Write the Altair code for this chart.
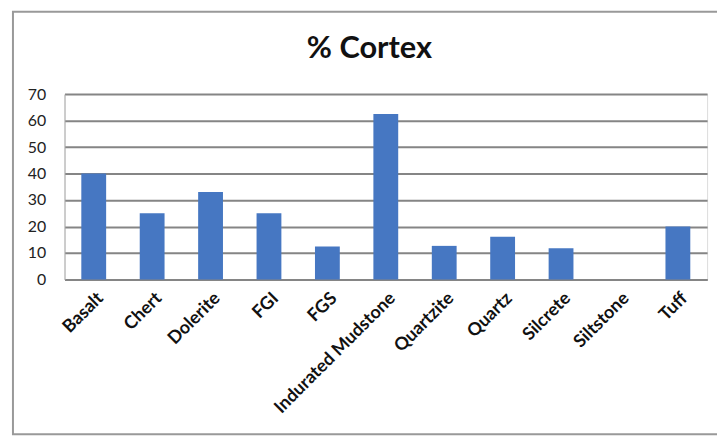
import altair as alt
import pandas as pd

categories = ["Basalt", "Chert", "Dolerite", "FGI", "FGS", "Indurated Mudstone",
              "Quartzite", "Quartz", "Silcrete", "Siltstone", "Tuff"]
values = [40, 25, 33, 25, 12.5, 62.5, 12.7, 16.1, 11.8, 0, 20]
y_ticks = [0, 10, 20, 30, 40, 50, 60, 70]
title_text = "% Cortex"

df = pd.DataFrame({"rock": categories, "pct": values})

FONT = "Lato"
GRID = "#858585"

bars = alt.Chart(df).mark_bar(color="#4677c2").encode(
    x=alt.X("rock:N", sort=categories, title=None,
            scale=alt.Scale(paddingInner=0.575, paddingOuter=0.2875),
            axis=alt.Axis(labelAngle=-45, labelAlign="right", labelBaseline="middle",
                          labelFont=FONT, labelFontWeight="bold", labelFontSize=18,
                          labelColor="#111111", labelPadding=16, labelOffset=7,
                          ticks=False, domainColor=GRID, domainWidth=2, grid=False)),
    y=alt.Y("pct:Q", title=None,
            scale=alt.Scale(domain=[0, 70], nice=False),
            axis=alt.Axis(values=y_ticks, labelFont=FONT, labelFontSize=16,
                          labelColor="#222222", labelPadding=19, ticks=False,
                          domainColor="#aaaaaa", domainWidth=1,
                          grid=True, gridColor=GRID, gridWidth=2)),
)

frame = alt.Chart(alt.Data(values=[{}])).mark_rect(
    fill=None, stroke="#999999", strokeWidth=2, clip=False
).encode(
    x=alt.value(-52), x2=alt.value(680),
    y=alt.value(-83), y2=alt.value(343),
)

title = alt.Chart(alt.Data(values=[{"t": title_text}])).mark_text(
    font=FONT, fontSize=31, fontWeight="bold", color="#111111",
    align="center", baseline="alphabetic", clip=False
).encode(
    text="t:N",
    x=alt.value(307.5), y=alt.value(-36),
)

chart = alt.layer(bars, frame, title).properties(
    width=648, height=187,
    autosize=alt.AutoSizeParams(type="none"),
    padding={"left": 57, "top": 85, "right": 10, "bottom": 156},
).configure_view(stroke=None).configure(background="white")

chart.save("out.html", embed_options={"renderer": "svg", "actions": False})
